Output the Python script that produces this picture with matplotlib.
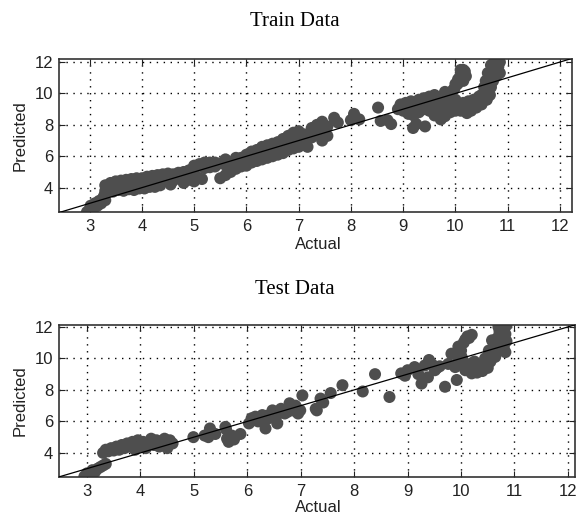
import matplotlib.pyplot as plt

plt.rcParams['font.family'] = ['Liberation Sans', 'DejaVu Sans']

# Train data (actual, predicted)
train_actual = [
    2.95, 3.0, 3.02, 3.08, 3.1, 3.15, 3.18, 3.22, 3.25, 3.28, 3.3,
    3.3, 3.3, 3.4, 3.4, 3.5, 3.5, 3.6, 3.6, 3.7, 3.7, 3.8, 3.8, 3.9, 3.9,
    4.0, 4.0, 4.1, 4.1, 4.2, 4.2, 4.3, 4.3, 4.4, 4.4, 4.5, 4.5, 4.6, 4.6,
    4.7, 4.7, 4.8, 4.8, 4.8, 4.9, 4.9, 5.0, 5.0, 5.0, 5.05, 5.1, 5.15,
    5.2, 5.2, 5.3, 5.3, 5.4, 5.4, 5.5, 5.5, 5.6, 5.6, 5.6, 5.7, 5.7,
    5.8, 5.8, 5.8, 5.9, 5.9, 6.0, 6.0, 6.0, 6.1, 6.1, 6.1, 6.2, 6.2, 6.2,
    6.3, 6.3, 6.3, 6.4, 6.4, 6.4, 6.5, 6.5, 6.5, 6.6, 6.6, 6.6,
    6.7, 6.7, 6.7, 6.8, 6.8, 6.8, 6.9, 6.9, 6.9, 7.0, 7.0, 7.0,
    7.1, 7.1, 7.17, 7.25, 7.25, 7.35, 7.35, 7.45, 7.45, 7.45, 7.55, 7.55,
    7.68, 7.75, 8.0, 8.06, 8.16, 8.52, 8.57, 8.7, 8.77,
    8.9, 8.95, 9.0, 9.05, 9.1, 9.15, 9.19, 9.25, 9.2, 9.3, 9.35, 9.42,
    9.4, 9.45, 9.5, 9.55, 9.6, 9.65, 9.72, 9.75, 9.8, 9.8, 9.85, 9.9,
    9.9, 9.95, 10.0, 10.0, 9.3, 9.5, 9.6, 9.4, 9.7, 9.2,
    9.98, 10.04, 10.08, 10.12, 10.15, 10.2,
    10.05, 10.1, 10.22, 10.3, 10.4, 10.5, 10.15, 10.25, 10.35, 10.45,
    10.55, 10.6, 10.5, 10.6, 10.62, 10.65, 10.7, 10.72, 10.75, 10.79,
    10.8, 10.8, 10.78, 10.72, 10.68, 10.4, 10.3, 10.2, 10.66, 10.85, 10.85,
    3.35, 3.55, 3.75, 3.95, 4.15, 4.35, 4.55, 9.1, 9.3, 9.5, 9.65, 9.85,
    3.45, 3.65, 3.85, 4.05, 4.25,
    9.0, 9.1, 9.6, 9.75, 9.9, 10.0, 9.95, 9.85,
    10.05, 10.1, 10.18, 10.0, 10.15,
    10.55, 10.58, 10.62, 10.68, 10.75, 10.82, 10.5, 10.45, 10.35, 10.25, 10.15,
]
train_predicted = [
    2.45, 2.6, 2.85, 2.7, 3.0, 2.85, 3.15, 3.0, 3.3, 3.5, 3.2,
    3.8, 4.15, 3.9, 4.3, 4.0, 4.4, 3.95, 4.45, 4.1, 4.5, 4.0, 4.55, 4.2, 4.6,
    4.1, 4.6, 4.3, 4.7, 4.25, 4.75, 4.4, 4.8, 4.4, 4.85, 4.5, 4.9, 4.45, 4.85,
    4.6, 4.95, 4.3, 4.75, 5.0, 4.5, 5.1, 4.4, 4.9, 5.4, 4.7, 5.5, 4.55,
    5.25, 5.6, 5.3, 5.6, 5.35, 5.6, 4.6, 5.55, 4.8, 5.45, 5.8, 5.0, 5.55,
    5.2, 5.7, 5.9, 5.35, 5.9, 5.4, 5.8, 6.1, 5.6, 6.0, 6.3, 5.7, 6.2, 6.4,
    5.8, 6.3, 6.6, 5.9, 6.4, 6.7, 6.0, 6.5, 6.8, 6.1, 6.6, 6.9,
    6.2, 6.8, 7.1, 6.4, 6.9, 7.3, 6.5, 7.1, 7.5, 6.6, 7.2, 7.6,
    6.8, 7.4, 6.6, 7.2, 7.8, 7.5, 8.0, 7.0, 7.6, 8.2, 7.3, 7.9,
    8.45, 8.15, 8.3, 8.7, 8.35, 9.1, 8.25, 8.3, 8.05,
    9.0, 9.3, 9.15, 9.4, 9.1, 9.5, 7.8, 8.05, 9.3, 9.6, 9.3, 7.9,
    9.7, 9.4, 9.8, 9.5, 9.9, 9.6, 8.35, 9.8, 8.55, 10.1, 9.5, 8.8,
    9.9, 10.2, 9.3, 8.9, 8.8, 8.9, 8.6, 9.0, 9.0, 8.6,
    10.3, 10.6, 11.0, 11.3, 11.5, 11.1,
    9.1, 8.9, 8.75, 8.9, 9.1, 9.3, 9.4, 9.5, 9.6, 9.8,
    10.0, 9.6, 9.55, 10.3, 10.7, 11.0, 11.4, 11.8, 12.1, 12.3,
    11.9, 11.5, 11.1, 10.8, 10.4, 9.35, 9.25, 9.2, 9.9, 11.3, 12.0,
    3.75, 3.85, 3.9, 3.95, 4.05, 4.15, 4.2, 8.8, 9.2, 9.2, 9.2, 9.2,
    3.75, 3.8, 3.85, 3.95, 4.05,
    8.9, 8.7, 9.2, 9.0, 9.2, 9.6, 9.0, 8.9,
    10.9, 11.5, 11.4, 10.6, 10.8,
    10.4, 10.8, 11.3, 11.8, 11.3, 11.7, 9.9, 9.5, 9.3, 9.0, 9.1,
]

# Test data (actual, predicted)
test_actual = [
    2.95, 3.0, 3.05, 3.1, 3.1, 3.15, 3.2, 3.25, 3.3, 3.35, 3.0,
    3.3, 3.35, 3.4, 3.45, 3.5, 3.55, 3.6, 3.65, 3.7, 3.75, 3.8, 3.85,
    3.9, 3.9, 3.95, 4.0, 4.05, 4.1, 4.15, 4.2, 4.25, 4.3, 4.35, 4.4,
    4.45, 4.5, 4.55, 4.5, 4.6,
    4.99, 5.2, 5.27, 5.3, 5.4, 5.59, 5.62, 5.65, 5.71, 5.75, 5.87, 5.6,
    6.03, 6.1, 6.15, 6.2, 6.28, 6.34, 6.4, 6.47, 6.56, 6.55, 6.63, 6.7,
    6.79, 6.85, 6.91, 6.95, 6.99, 7.03,
    7.28, 7.3, 7.37, 7.42, 7.56, 7.78, 8.16, 8.39, 8.66,
    8.88, 8.95, 9.0, 9.13, 9.26, 9.32, 9.38, 9.45, 9.51, 9.4, 9.6, 9.7,
    9.92, 9.76, 9.82, 9.95, 10.08, 10.2, 10.12, 10.01, 9.89, 10.08, 10.2,
    10.33, 10.45, 10.52, 10.58, 10.7, 10.77, 10.83, 10.77, 10.83, 10.64,
    10.26, 10.4, 10.5, 10.6, 10.7, 10.85, 10.8,
    6.08, 6.25, 6.35, 6.45, 6.6, 6.75, 6.82, 6.9, 9.2, 9.55, 10.15, 10.35,
    10.05, 10.1, 10.2, 10.3, 10.4, 10.5, 10.55, 10.6, 10.65, 10.68,
    10.72, 10.8, 10.85, 10.8, 10.0, 10.05, 10.15, 9.95, 10.25, 10.45,
]
test_predicted = [
    2.5, 2.7, 2.6, 2.9, 2.6, 2.8, 3.0, 3.1, 3.2, 3.3, 2.4,
    4.0, 4.2, 4.1, 4.3, 4.15, 4.4, 4.2, 4.5, 4.3, 4.6, 4.4, 4.7,
    4.2, 4.55, 4.8, 4.4, 4.7, 4.3, 4.6, 4.9, 4.5, 4.8, 4.4, 4.7,
    4.9, 4.6, 4.8, 4.3, 4.6,
    5.0, 5.1, 5.0, 5.55, 5.2, 5.65, 4.9, 4.7, 5.1, 4.85, 5.2, 5.5,
    5.87, 6.1, 6.3, 6.0, 6.4, 5.55, 6.2, 6.7, 5.87, 6.4, 6.8, 6.5,
    7.15, 6.7, 6.8, 6.5, 6.7, 7.65,
    6.8, 6.7, 7.45, 7.2, 7.8, 8.3, 7.9, 9.0, 7.55,
    9.05, 8.9, 9.25, 9.45, 8.4, 9.55, 8.8, 9.65, 9.25, 9.9, 9.5, 8.2,
    8.63, 9.65, 10.3, 10.75, 11.2, 11.5, 11.4, 10.1, 9.45, 9.25, 9.05,
    9.25, 9.65, 10.5, 11.15, 12.0, 12.3, 11.55, 10.95, 10.4, 10.1,
    9.65, 9.4, 10.0, 10.7, 12.2, 12.1, 10.75,
    6.2, 6.15, 6.35, 6.3, 6.6, 6.6, 6.9, 7.0, 9.0, 9.4, 9.3, 9.5,
    9.8, 9.5, 9.3, 9.1, 9.2, 9.4, 9.8, 10.3, 10.8, 11.3,
    11.7, 11.9, 11.1, 10.5, 10.5, 11.0, 11.3, 9.9, 9.8, 10.0,
]

ticks = [3, 4, 5, 6, 7, 8, 9, 10, 11, 12]
yticks = [4, 6, 8, 10, 12]

panels = [
    ('Train Data', train_actual, train_predicted,
     [0.102, 0.5915, 0.891, 0.295], (2.41, 12.23), (2.45, 12.2), 22, 244),
    ('Test Data', test_actual, test_predicted,
     [0.102, 0.081, 0.896, 0.293], (2.47, 12.13), (2.47, 12.13), 290, 508),
]

fig = plt.figure(figsize=(5.76, 5.19), dpi=100)

for title, xs, ys, rect, xlim, ylim, title_y, xlabel_y in panels:
    ax = fig.add_axes(rect)
    ax.scatter(xs, ys, s=75, color='#4e4e4e', edgecolors='none', zorder=2)
    ax.plot([2, 13], [2, 13], color='black', linewidth=0.9, zorder=3)

    ax.set_xlim(*xlim)
    ax.set_ylim(*ylim)
    ax.set_xticks(ticks)
    ax.set_yticks(yticks)
    ax.grid(True, color='black', linestyle=(0, (1, 4)), linewidth=1.0)
    ax.set_axisbelow(True)
    ax.tick_params(direction='in', top=True, right=True, length=4,
                   labelsize=12, colors='#222222')
    ax.tick_params(axis='x', pad=5)
    ax.tick_params(axis='y', pad=4)
    for spine in ax.spines.values():
        spine.set_color('#333333')
        spine.set_linewidth(1.2)

    ax.set_ylabel('Predicted', fontsize=12, color='#222222', labelpad=5)
    fig.text(0.552, 1 - xlabel_y / 519, 'Actual', ha='center', va='center',
             fontsize=12, color='#222222')
    fig.text(295 / 576, 1 - title_y / 519, title, ha='center', va='center',
             fontsize=15, family='Liberation Serif')

fig.savefig('out.png', dpi=100, facecolor='white')
